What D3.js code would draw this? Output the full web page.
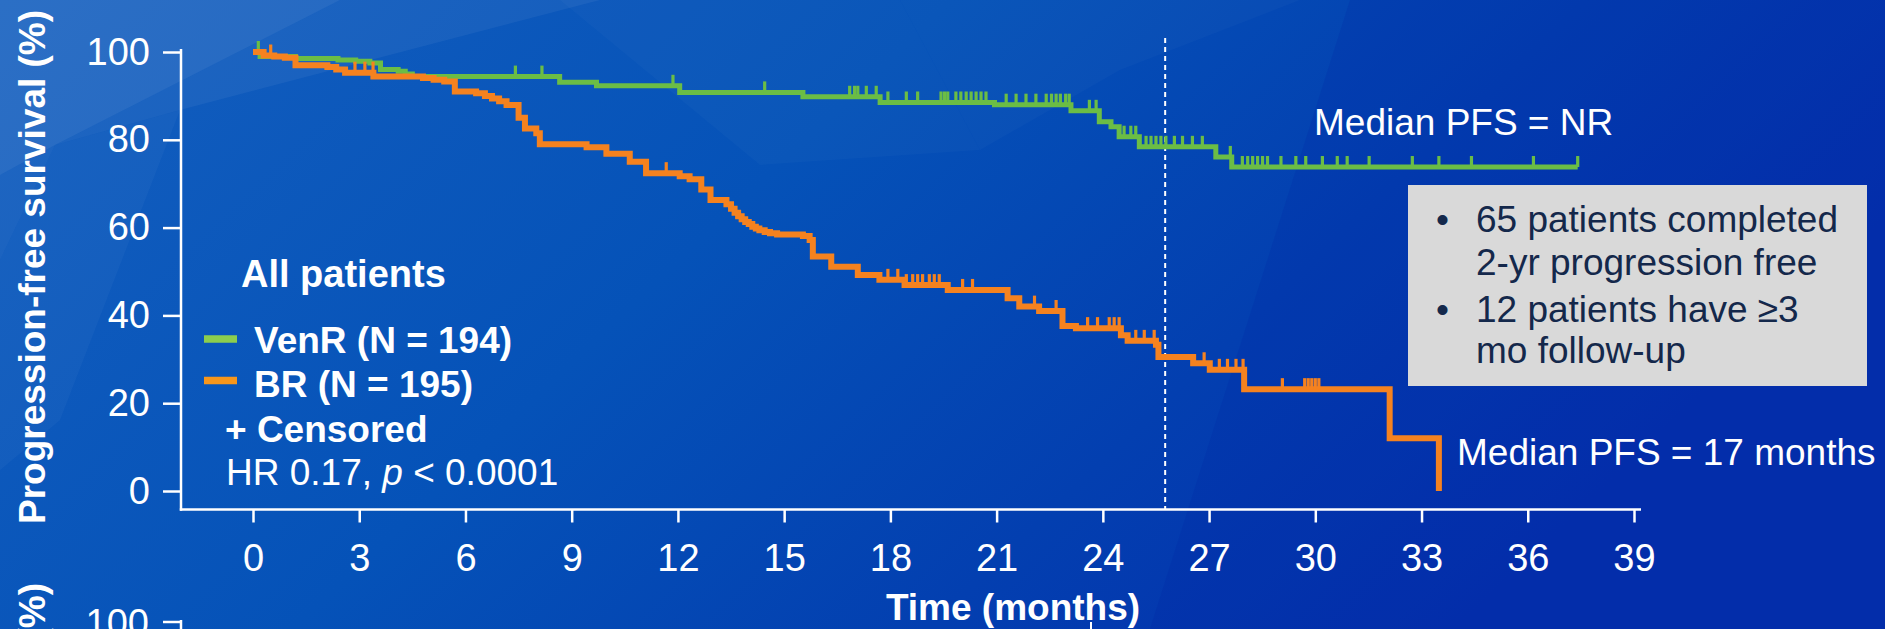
<!DOCTYPE html>
<html>
<head>
<meta charset="utf-8">
<script src="https://cdn.jsdelivr.net/npm/d3@7"></script>
<style>
  html, body { margin: 0; padding: 0; overflow: hidden; background: #0a50b6; }
  svg { display: block; font-family: 'Liberation Sans', Arial, Helvetica, sans-serif; }
</style>
</head>
<body>
<script>
const width = 1885
const height = 629

// axis ticks
const xTicks = [0, 3, 6, 9, 12, 15, 18, 21, 24, 27, 30, 33, 36, 39]
const yTicks = [0, 20, 40, 60, 80, 100]

// Kaplan-Meier steps: [month, % progression free after the drop]
const venrSteps = [
  [0, 100], [0.2, 99.0], [1.2, 98.5], [2.4, 98.2], [2.9, 97.9], [3.3, 97.5],
  [3.6, 96.0], [4.1, 95.6], [4.3, 95.0], [4.5, 94.4], [8.66, 93.1], [9.7, 92.3],
  [12.05, 90.8], [15.53, 89.8], [17.71, 88.5], [20.94, 88.0], [23.1, 86.6],
  [23.9, 84.1], [24.23, 83.0], [24.46, 80.7], [25.03, 78.4], [27.19, 76.1],
  [27.64, 73.8]
]
const venrEnd = 37.41
const venrCensored = [
  0.15, 7.41, 8.16, 11.86, 14.45, 16.85, 16.99, 17.08, 17.32, 17.6, 17.93, 18.45,
  18.77, 19.43, 19.53, 19.62, 19.85, 19.99, 20.14, 20.28, 20.42, 20.56, 20.7,
  21.27, 21.55, 21.83, 22.11, 22.4, 22.55, 22.68, 22.8, 22.95, 23.05, 23.62,
  23.81, 24.6, 24.79, 24.93, 25.22, 25.36, 25.5, 25.64, 25.78, 26.02, 26.25,
  26.53, 26.81, 27.6, 27.94, 28.09, 28.23, 28.37, 28.51, 28.65, 29.03, 29.45,
  29.73, 30.2, 30.62, 30.9, 31.52, 32.74, 33.49, 34.41, 36.16, 37.41
]

const brSteps = [
  [0, 100], [0.3, 99.2], [0.6, 99.0], [0.9, 98.7], [1.2, 97.0], [2.1, 96.6],
  [2.35, 96.0], [2.6, 95.3], [3.4, 94.4], [4.8, 94.1], [5.1, 93.7], [5.4, 93.3],
  [5.7, 91.0], [6.3, 90.6], [6.55, 90.0], [6.75, 89.4], [6.95, 88.8], [7.16, 87.9],
  [7.5, 85.0], [7.68, 82.6], [8.0, 81.5], [8.1, 79.0], [9.42, 78.3], [9.98, 76.8],
  [10.64, 75.0], [11.1, 72.4], [12.05, 71.7], [12.33, 71.0], [12.66, 68.7],
  [12.92, 66.3], [13.37, 65.3], [13.5, 64.3], [13.6, 63.4], [13.7, 62.6],
  [13.8, 61.9], [13.9, 61.3], [14.0, 60.8], [14.1, 60.2], [14.2, 59.8],
  [14.3, 59.4], [14.45, 59.0], [14.6, 58.7], [14.8, 58.4], [15.53, 58.1],
  [15.72, 57.2], [15.81, 53.4], [16.33, 51.1], [17.08, 49.2], [17.69, 48.1],
  [18.4, 46.9], [19.62, 45.8], [21.31, 43.9], [21.64, 42.0], [22.2, 41.0],
  [22.86, 37.6], [23.24, 37.1], [24.51, 35.5], [24.7, 34.2], [25.5, 33.3],
  [25.57, 30.5], [26.55, 29.1], [27.02, 27.6], [27.99, 23.2], [32.1, 12.0],
  [33.49, 0]
]
const brEnd = 33.49
const brCensored = [
  0.5, 2.88, 3.16, 3.39, 11.67, 17.93, 18.21, 18.45, 18.63, 18.77, 18.91, 19.1,
  19.24, 19.38, 20.04, 20.32, 22.07, 22.68, 23.57, 23.85, 24.18, 24.32, 24.46,
  24.93, 25.17, 25.45, 26.86, 27.29, 27.52, 27.76, 27.96, 29.07, 29.7, 29.8,
  29.9, 30.0, 30.1
]

const landmarkMonth = 25.76

const legendNames = ['VenR (N = 194)', 'BR (N = 195)']
const boxLines = [
  { bullet: true, text: '65 patients completed' },
  { bullet: false, text: '2-yr progression free' },
  { bullet: true, text: '12 patients have \u22653' },
  { bullet: false, text: 'mo follow-up' }
]

const venrColor = '#6bbd45'
const brColor = '#f5821f'

let svg = d3.select('body')
  .append('svg')
  .attr('width', width)
  .attr('height', height)

// background
let defs = svg.append('defs')
let grad = defs.append('linearGradient')
  .attr('id', 'bg')
  .attr('x1', 0).attr('y1', 0).attr('x2', 1).attr('y2', 0.35)
grad.append('stop').attr('offset', '0%').attr('stop-color', '#145fbf')
grad.append('stop').attr('offset', '45%').attr('stop-color', '#0552b8')
grad.append('stop').attr('offset', '75%').attr('stop-color', '#033fb0')
grad.append('stop').attr('offset', '100%').attr('stop-color', '#0430ad')

svg.append('rect')
  .attr('width', width)
  .attr('height', height)
  .attr('fill', 'url(#bg)')

let facets = [
  { pts: [[0, 0], [340, 0], [55, 145], [0, 175]], op: 0.1 },
  { pts: [[0, 175], [55, 145], [0, 260]], op: 0.05 },
  { pts: [[340, 0], [600, 0], [180, 110], [55, 145]], op: 0.05 },
  { pts: [[560, 0], [900, 0], [980, 150], [760, 165]], op: 0.025 },
  { pts: [[0, 260], [55, 145], [180, 110], [60, 420], [0, 470]], op: 0.03 },
  { pts: [[900, 0], [1300, 0], [1120, 70], [980, 150]], op: 0.025 }
]
svg.append('g')
  .selectAll('polygon')
  .data(facets)
  .enter()
  .append('polygon')
  .attr('points', d => d.pts.map(p => p.join(',')).join(' '))
  .attr('fill', 'white')
  .attr('fill-opacity', d => d.op)

svg.append('polygon')
  .attr('points', '1350,0 1885,0 1885,629 1150,629')
  .attr('fill', '#0222a0')
  .attr('fill-opacity', 0.18)

// scales
let x = d3.scaleLinear().domain([0, 39]).range([253, 1634])
let y = d3.scaleLinear().domain([0, 100]).range([491, 52])

// axes
let yAxis = svg.append('g')
  .attr('transform', 'translate(181,0)')
  .call(d3.axisLeft(y).tickValues(yTicks).tickSize(18).tickPadding(13))
let xAxis = svg.append('g')
  .attr('transform', 'translate(0,509.5)')
  .call(d3.axisBottom(x).tickValues(xTicks).tickSize(13).tickPadding(22))

;[yAxis, xAxis].forEach(g => {
  g.select('.domain').remove()
  g.selectAll('line').attr('stroke', 'white').attr('stroke-width', 2.5)
  g.selectAll('text')
    .attr('fill', 'white')
    .attr('font-size', 38)
    .attr('font-family', "'Liberation Sans', Arial, sans-serif")
})

svg.append('line')
  .attr('x1', 181).attr('x2', 181)
  .attr('y1', 49).attr('y2', 510.7)
  .attr('stroke', 'white').attr('stroke-width', 2.5)
svg.append('line')
  .attr('x1', 179.8).attr('x2', 1641)
  .attr('y1', 509.5).attr('y2', 509.5)
  .attr('stroke', 'white').attr('stroke-width', 2.5)

// landmark dashed line
svg.append('line')
  .attr('x1', x(landmarkMonth)).attr('x2', x(landmarkMonth))
  .attr('y1', 38).attr('y2', 509)
  .attr('stroke', 'white')
  .attr('stroke-width', 2)
  .attr('stroke-dasharray', '5,4')

// curves
function survivalAt (steps, t) {
  let i = d3.bisector(d => d[0]).right(steps, t) - 1
  return steps[Math.max(0, i)][1]
}

let line = d3.line()
  .x(d => x(d[0]))
  .y(d => y(d[1]))
  .curve(d3.curveStepAfter)

let curves = [
  { steps: venrSteps, end: venrEnd, censored: venrCensored, color: venrColor, w: 5 },
  { steps: brSteps, end: brEnd, censored: brCensored, color: brColor, w: 6 }
]

curves.forEach(c => {
  let pts = c.steps.concat([[c.end, c.steps[c.steps.length - 1][1]]])
  svg.append('path')
    .datum(pts)
    .attr('d', line)
    .attr('fill', 'none')
    .attr('stroke', c.color)
    .attr('stroke-width', c.w)

  svg.append('g')
    .selectAll('line')
    .data(c.censored)
    .enter()
    .append('line')
    .attr('x1', d => x(d))
    .attr('x2', d => x(d))
    .attr('y1', d => y(survivalAt(c.steps, d)))
    .attr('y2', d => y(survivalAt(c.steps, d)) - 11)
    .attr('stroke', c.color)
    .attr('stroke-width', 3.2)
})

// y label
svg.append('text')
  .attr('transform', 'translate(44.5,524) rotate(-90)')
  .attr('fill', 'white')
  .attr('font-size', 37)
  .attr('font-weight', 'bold')
  .text('Progression-free survival (%)')

// x label
svg.append('text')
  .attr('x', 1013)
  .attr('y', 620)
  .attr('text-anchor', 'middle')
  .attr('fill', 'white')
  .attr('font-size', 37)
  .attr('font-weight', 'bold')
  .text('Time (months)')

// legend
svg.append('text')
  .attr('x', 241).attr('y', 287)
  .attr('fill', 'white')
  .attr('font-size', 38)
  .attr('font-weight', 'bold')
  .text('All patients')

let legendColors = ['#8cce4e', '#f7961c']
let legend = svg.append('g')
legend.selectAll('line')
  .data(legendNames)
  .enter()
  .append('line')
  .attr('x1', 204).attr('x2', 237)
  .attr('y1', (d, i) => 339 + i * 41.5)
  .attr('y2', (d, i) => 339 + i * 41.5)
  .attr('stroke', (d, i) => legendColors[i])
  .attr('stroke-width', 7.5)
legend.selectAll('text')
  .data(legendNames)
  .enter()
  .append('text')
  .attr('x', 254)
  .attr('y', (d, i) => 353 + i * 44)
  .attr('fill', 'white')
  .attr('font-size', 37)
  .attr('font-weight', 'bold')
  .text(d => d)

svg.append('text')
  .attr('x', 225).attr('y', 442)
  .attr('fill', 'white')
  .attr('font-size', 37)
  .attr('font-weight', 'bold')
  .text('+ Censored')

let hr = svg.append('text')
  .attr('x', 226).attr('y', 485)
  .attr('fill', 'white')
  .attr('font-size', 37)
hr.append('tspan').text('HR 0.17, ')
hr.append('tspan').attr('font-style', 'italic').text('p')
hr.append('tspan').text(' < 0.0001')

// medians
svg.append('text')
  .attr('x', 1314).attr('y', 135)
  .attr('fill', 'white')
  .attr('font-size', 37)
  .text('Median PFS = NR')
svg.append('text')
  .attr('x', 1457).attr('y', 465)
  .attr('fill', 'white')
  .attr('font-size', 37)
  .text('Median PFS = 17 months')

// grey note box
svg.append('rect')
  .attr('x', 1408).attr('y', 185)
  .attr('width', 459).attr('height', 201)
  .attr('fill', '#d9d9d9')

let box = svg.append('g')
box.selectAll('text.line')
  .data(boxLines)
  .enter()
  .append('text')
  .attr('class', 'line')
  .attr('x', 1476)
  .attr('y', (d, i) => [232, 275, 322, 363][i])
  .attr('fill', '#14284b')
  .attr('font-size', 37)
  .text(d => d.text)
box.selectAll('text.bullet')
  .data(boxLines.filter(d => d.bullet))
  .enter()
  .append('text')
  .attr('class', 'bullet')
  .attr('x', 1436)
  .attr('y', (d, i) => [232, 322][i])
  .attr('fill', '#14284b')
  .attr('font-size', 37)
  .text('\u2022')

// top of the next panel, cut off by the frame
let next = svg.append('g')
next.append('line')
  .attr('x1', 181).attr('x2', 181)
  .attr('y1', 620).attr('y2', 640)
  .attr('stroke', 'white').attr('stroke-width', 2.5)
next.append('line')
  .attr('x1', 163).attr('x2', 181)
  .attr('y1', 622).attr('y2', 622)
  .attr('stroke', 'white').attr('stroke-width', 2.5)
next.append('text')
  .attr('x', 149).attr('y', 624)
  .attr('dy', '0.32em')
  .attr('text-anchor', 'end')
  .attr('fill', 'white')
  .attr('font-size', 38)
  .text('100')
next.append('text')
  .attr('transform', 'translate(44.5,583) rotate(-90)')
  .attr('text-anchor', 'end')
  .attr('fill', 'white')
  .attr('font-size', 37)
  .attr('font-weight', 'bold')
  .text('Progression-free survival (%)')
next.append('line')
  .attr('x1', 1091).attr('x2', 1091)
  .attr('y1', 622).attr('y2', 640)
  .attr('stroke', 'white').attr('stroke-width', 2)
</script>
</body>
</html>
